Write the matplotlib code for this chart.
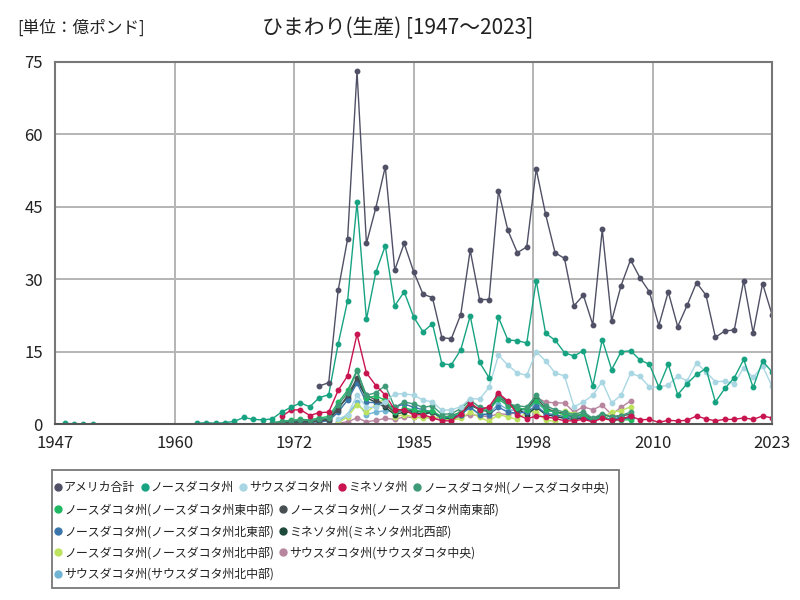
import matplotlib

matplotlib.use("Agg")
import matplotlib.pyplot as plt
from matplotlib.lines import Line2D
from matplotlib.patches import Rectangle
import numpy as np

plt.rcParams["font.family"] = ["Noto Sans CJK JP", "DejaVu Sans"]

nan = np.nan

# ─── data (億ポンド) ──────────────────────────────────────────────────────────

years_us = list(range(1975, 2024))
us_total = [7.9, 8.6, 27.7, 38.3, 73.0, 37.4, 44.8, 53.3, 31.9, 37.4,
            31.6, 26.9, 26.2, 17.9, 17.7, 22.7, 36.0, 25.8, 25.8, 48.3,
            40.1, 35.5, 36.7, 52.8, 43.4, 35.5, 34.3, 24.5, 26.7, 20.6,
            40.3, 21.4, 28.7, 34.0, 30.3, 27.4, 20.4, 27.4, 20.2, 24.6,
            29.3, 26.7, 18.0, 19.3, 19.5, 29.7, 18.9, 29.1, 22.7]

years_nd = list(range(1948, 2024))
nd_total = [0.15, 0.1, 0.1, 0.1,
            nan, nan, nan, nan, nan, nan, nan, nan, nan, nan,
            0.2, 0.3, 0.2, 0.3, 0.6, 1.4, 1.0, 0.9, 1.1, 2.5,
            3.5, 4.4, 3.6, 5.5, 6.1, 16.6, 25.5, 45.9, 21.7, 31.5,
            36.9, 24.5, 27.4, 22.2, 19.1, 20.8, 12.5, 12.3, 15.4, 22.4,
            12.8, 9.6, 22.1, 17.4, 17.3, 16.8, 29.7, 18.8, 17.4, 14.8,
            14.1, 15.2, 7.9, 17.5, 11.3, 15.0, 15.2, 13.3, 12.4, 7.7,
            12.4, 6.1, 8.4, 10.3, 11.5, 4.6, 7.4, 9.6, 13.4, 7.6,
            13.1, 10.8]

years_sd = list(range(1977, 2024))
sd_total = [1.0, 2.0, 6.0, 3.5, 3.5, 4.5, 6.3, 6.3, 6.0, 5.0,
            4.6, 2.9, 3.0, 3.6, 5.3, 5.2, 7.6, 14.3, 12.2, 10.6,
            10.1, 15.0, 13.1, 10.6, 10.0, 3.6, 4.6, 6.0, 8.8, 4.4,
            6.0, 10.5, 9.9, 7.7, 7.7, 8.1, 9.9, 9.0, 12.7, 10.8,
            8.8, 8.9, 8.4, 11.7, 9.7, 12.0, 7.9]

years_mn = list(range(1971, 2024))
mn_total = [1.6, 2.9, 3.0, 1.8, 2.4, 2.5, 7.0, 10.0, 18.6, 10.6,
            8.0, 6.0, 3.0, 3.0, 1.9, 2.0, 1.3, 0.7, 0.7, 2.2,
            4.4, 3.0, 3.6, 6.4, 4.8, 2.0, 1.1, 1.7, 1.5, 1.2,
            0.7, 0.7, 1.0, 0.5, 1.2, 0.8, 1.0, 1.7, 0.9, 1.0,
            0.4, 0.8, 0.7, 0.8, 1.7, 1.1, 0.7, 1.0, 1.0, 1.3,
            1.0, 1.7, 1.3]

years_sub = list(range(1970, 2009))
nd_central = [0.3, 0.5, 0.7, 0.8, 0.8, 1.0, 1.3, 4.0, 6.5, 11.0,
              6.0, 6.5, 8.0, 3.5, 4.6, 4.2, 3.5, 3.8, 2.0, 2.2,
              3.2, 5.0, 3.5, 3.2, 6.0, 4.2, 3.8, 3.6, 6.0, 3.8,
              3.0, 2.5, 2.0, 2.6, 1.2, 2.2, 1.5, 1.8, 2.5]
nd_east_central = [0.3, 0.6, 0.8, 1.0, 0.9, 1.3, 1.6, 4.5, 7.0, 11.2,
                   5.5, 5.8, 5.0, 2.5, 3.3, 3.0, 2.6, 2.8, 1.5, 1.6,
                   2.5, 4.5, 2.8, 3.0, 5.2, 3.8, 3.4, 3.0, 4.9, 3.0,
                   2.5, 2.0, 1.8, 2.0, 0.8, 1.7, 0.8, 0.9, 0.9]
nd_southeast = [0.1, 0.2, 0.4, 0.5, 0.5, 0.7, 0.9, 3.0, 6.0, 9.5,
                6.0, 5.0, 4.0, 2.5, 3.0, 2.8, 2.5, 2.5, 1.5, 1.7,
                2.5, 4.2, 3.0, 2.8, 5.8, 4.0, 3.0, 3.2, 5.5, 3.3,
                2.6, 2.2, 1.5, 2.2, 1.0, 2.0, 1.5, 1.8, 2.0]
nd_northeast = [0.1, 0.2, 0.3, 0.4, 0.4, 0.5, 0.7, 2.5, 5.0, 8.5,
                4.5, 4.5, 4.0, 3.5, 4.2, 3.5, 3.0, 2.5, 1.2, 1.5,
                2.0, 3.5, 2.0, 2.0, 3.5, 2.5, 2.3, 2.5, 3.8, 2.2,
                2.0, 1.5, 1.5, 1.5, 0.8, 1.5, 1.0, 1.5, 1.2]
mn_northwest = [0.1, 0.3, 0.5, 0.6, 0.5, 0.8, 1.0, 3.5, 5.5, 9.0,
                5.5, 4.5, 3.5, 2.0, 2.5, 2.5, 2.0, 2.5, 1.2, 1.2,
                2.0, 4.0, 3.0, 2.6, 6.0, 4.5, 3.2, 2.0, 3.5, 2.0,
                1.6, 1.2, 1.0, 1.3, 0.7, 1.5, 0.8, 1.2, 1.3]

years_sub2 = list(range(1977, 2009))
nd_north_central = [0.3, 1.5, 4.0, 2.5, 4.0, 5.5, 1.5, 2.0, 1.5, 1.2,
                    1.5, 1.3, 0.8, 1.2, 2.5, 1.4, 0.6, 2.0, 1.5, 1.0,
                    2.5, 2.6, 0.8, 0.6, 2.8, 2.2, 1.8, 1.0, 1.3, 2.5,
                    2.8, 3.6]
sd_central = [0.2, 0.5, 1.3, 0.5, 0.8, 1.2, 1.0, 1.5, 1.4, 1.5,
              1.2, 1.0, 1.1, 1.5, 2.0, 1.8, 1.5, 2.2, 2.0, 2.4,
              2.5, 5.5, 4.6, 4.4, 4.4, 2.5, 3.6, 3.0, 3.9, 2.0,
              3.5, 4.8]
sd_north_central = [0.5, 2.0, 4.5, 2.0, 2.5, 2.8, 2.5, 2.8, 2.6, 2.6,
                    2.4, 1.3, 1.5, 2.0, 3.5, 2.0, 2.2, 4.2, 3.0, 2.8,
                    3.0, 4.5, 2.8, 2.6, 2.0, 1.2, 1.6, 1.0, 1.5, 0.8,
                    1.2, 1.5]

series = [
    ("アメリカ合計", years_us, us_total, "#505066"),
    ("ノースダコタ州", years_nd, nd_total, "#17a382"),
    ("サウスダコタ州", years_sd, sd_total, "#a9d6e3"),
    ("ミネソタ州", years_mn, mn_total, "#c8144f"),
    ("ノースダコタ州(ノースダコタ中央)", years_sub, nd_central, "#3f9a78"),
    ("ノースダコタ州(ノースダコタ州東中部)", years_sub, nd_east_central, "#20b863"),
    ("ノースダコタ州(ノースダコタ州南東部)", years_sub, nd_southeast, "#474f52"),
    ("ノースダコタ州(ノースダコタ州北東部)", years_sub, nd_northeast, "#3b76ab"),
    ("ミネソタ州(ミネソタ州北西部)", years_sub, mn_northwest, "#1e4a3b"),
    ("ノースダコタ州(ノースダコタ州北中部)", years_sub2, nd_north_central, "#bde35e"),
    ("サウスダコタ州(サウスダコタ中央)", years_sub2, sd_central, "#b8859e"),
    ("サウスダコタ州(サウスダコタ州北中部)", years_sub2, sd_north_central, "#70b5d3"),
]

# legend rows as laid out in the reference
legend_rows = [[0, 1, 2, 3, 4], [5, 6], [7, 8], [9, 10], [11]]

# ─── figure ──────────────────────────────────────────────────────────────────

fig = plt.figure(figsize=(8, 6), dpi=100)
ax = fig.add_axes([0.069, 0.293, 0.896, 0.604])

for label, xs, ys, color in reversed(series):
    ax.plot(xs, ys, color=color, lw=1.0, marker="o", ms=3.2, label=label)

ax.set_xlim(1947, 2023)
ax.set_ylim(0, 75)
xt = np.linspace(1947, 2023, 7)
ax.set_xticks(xt)
ax.set_xticklabels([f"{round(v)}" for v in xt])
ax.set_yticks([0, 15, 30, 45, 60, 75])
ax.tick_params(length=0, labelsize=12, colors="#222222")
ax.tick_params(axis="y", pad=9)
ax.tick_params(axis="x", pad=8)
ax.grid(True, color="#b4b4b4", lw=1.4)
ax.set_axisbelow(True)
for side in ["top", "right", "left"]:
    ax.spines[side].set_color("#777777")
    ax.spines[side].set_linewidth(1.5)
ax.spines["bottom"].set_color("#555555")
ax.spines["bottom"].set_linewidth(1.5)

fig.text(0.497, 0.953, "ひまわり(生産) [1947～2023]", ha="center", va="center",
         fontsize=15, color="#222222")
fig.text(0.022, 0.953, "[単位：億ポンド]", ha="left", va="center",
         fontsize=12, color="#222222")

# legend: one frameless legend per row, with a single box around them
row_y = [0.187, 0.150, 0.114, 0.079, 0.043]
legends = []
for row, y in zip(legend_rows, row_y):
    handles = [Line2D([], [], ls="none", marker="o", ms=5, color=series[i][3])
               for i in row]
    labels = [series[i][0] for i in row]
    leg = fig.legend(handles, labels, loc="center left", bbox_to_anchor=(0.068, y),
                     ncol=len(row), frameon=False, fontsize=8.6, handlelength=0.6,
                     handletextpad=0.2, columnspacing=0.5, borderpad=0,
                     borderaxespad=0)
    for t in leg.get_texts():
        t.set_color("#222222")
    legends.append(leg)

fig.canvas.draw()
right = max(l.get_window_extent().x1 for l in legends) / fig.bbox.width
fig.add_artist(Rectangle((0.065, 0.02), right + 0.012 - 0.065, 0.197,
                         transform=fig.transFigure, fill=False,
                         edgecolor="#777777", lw=1.3))

fig.savefig("out.png", dpi=100, facecolor="white")
